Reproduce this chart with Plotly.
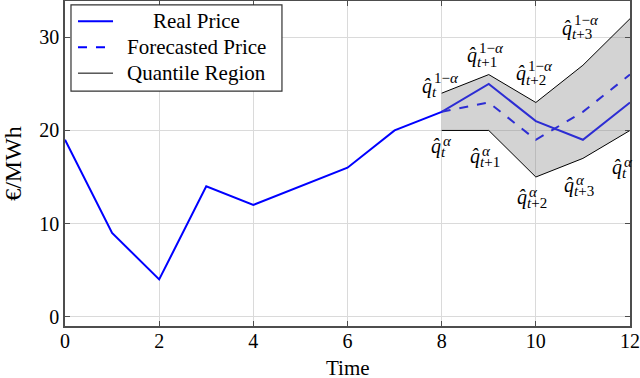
import plotly.graph_objects as go

# ── Data ────────────────────────────────────────────────────────────────────

time = [0, 1, 2, 3, 4, 5, 6, 7, 8, 9, 10, 11, 12]
real_price = [19, 9, 4, 14, 12, 14, 16, 20, 22, 25, 21, 19, 23]

forecast_time = [8, 9, 10, 11, 12]
forecast_price = [22, 23, 19, 22, 26]
quantile_upper = [24, 26, 23, 27, 32]
quantile_lower = [20, 20, 15, 17, 20]

x_ticks = [0, 2, 4, 6, 8, 10, 12]
y_ticks = [0, 10, 20, 30]

# quantile labels: (index into forecast_time, bound, subscript)
label_specs = [
    (0, "upper", "<i>t</i>"),
    (1, "upper", "<i>t</i>+1"),
    (2, "upper", "<i>t</i>+2"),
    (3, "upper", "<i>t</i>+3"),
    (0, "lower", "<i>t</i>"),
    (1, "lower", "<i>t</i>+1"),
    (2, "lower", "<i>t</i>+2"),
    (3, "lower", "<i>t</i>+3"),
    (4, "lower", "<i>t</i>"),
]
# pixel offsets of the q-hat glyph from its vertex
label_offsets = [
    (-15, 5), (-17, 17), (-15, 27), (-16, 35),
    (-6, -18), (-14, -28), (-14, -22), (-14, -29), (-13, -39),
]

# ── Styling ─────────────────────────────────────────────────────────────────

FONT = "Liberation Serif, Times New Roman, serif"
BLUE = "#0000ff"
FRAME = "#4d4d4d"
GRID = "#dadada"

series_styles = [
    ("Real Price", dict(color=BLUE, width=2)),
    ("Forecasted Price", dict(color=BLUE, width=2, dash="dash")),
    ("Quantile Region", dict(color="black", width=1)),
]

fig = go.Figure()

fig.add_trace(go.Scatter(
    x=time, y=real_price, mode="lines",
    line=series_styles[0][1], name=series_styles[0][0],
))
fig.add_trace(go.Scatter(
    x=forecast_time, y=forecast_price, mode="lines",
    line=series_styles[1][1], name=series_styles[1][0],
))
fig.add_trace(go.Scatter(
    x=forecast_time, y=quantile_lower, mode="lines",
    line=series_styles[2][1], name=series_styles[2][0],
))
fig.add_trace(go.Scatter(
    x=forecast_time, y=quantile_upper, mode="lines",
    line=series_styles[2][1], name="Quantile upper",
    fill="tonexty", fillcolor="rgba(128,128,128,0.35)",
))


def add_quantile_label(x, y, sub, sup, dx, dy):
    common = dict(x=x, y=y, xref="x", yref="y", showarrow=False,
                  yanchor="middle", borderpad=0)
    fig.add_annotation(text="<i>q\u0302</i>", xanchor="center",
                       xshift=dx, yshift=dy + 2, font=dict(size=20), **common)
    sup_lift = 10 if "1" in sup else 7
    fig.add_annotation(text=sup, xanchor="left", xshift=dx + 6,
                       yshift=dy + sup_lift, font=dict(size=15), **common)
    fig.add_annotation(text=sub, xanchor="left", xshift=dx + 4,
                       yshift=dy - 4, font=dict(size=15), **common)


for (i, bound, sub), (dx, dy) in zip(label_specs, label_offsets):
    if bound == "upper":
        add_quantile_label(forecast_time[i], quantile_upper[i], sub,
                           "1\u2212<i>\u03b1</i>", dx, dy)
    else:
        add_quantile_label(forecast_time[i], quantile_lower[i], sub,
                           "<i>\u03b1</i>", dx, dy)

# ── Legend box (pgfplots style, text centred in its column) ─────────────────

fig.add_shape(type="rect", xref="paper", yref="paper",
              x0=0.0106, x1=0.384, y0=0.723, y1=0.988,
              line=dict(color="#333333", width=1.2), fillcolor="white",
              layer="above")
for k, (name, style) in enumerate(series_styles):
    ly = 0.938 - k * 0.08
    fig.add_shape(type="line", xref="paper", yref="paper",
                  x0=0.023, x1=0.085, y0=ly, y1=ly,
                  line=style, layer="above")
    fig.add_annotation(text=name, xref="paper", yref="paper",
                       x=0.232, y=ly, xanchor="center", yanchor="middle",
                       showarrow=False, font=dict(size=21))

# x-axis title as annotation so it sits where pgfplots puts it
fig.add_annotation(text="Time", xref="paper", yref="paper", x=0.5, y=-0.128,
                   xanchor="center", yanchor="middle", showarrow=False,
                   borderpad=0, font=dict(size=21))

axis_style = dict(
    showgrid=True, gridcolor=GRID, gridwidth=1, zeroline=False,
    showline=True, linecolor=FRAME, linewidth=1.6, mirror="allticks",
    ticks="inside", ticklen=5, tickcolor=FRAME, automargin=False,
)

fig.update_xaxes(range=[0, 12], tickvals=x_ticks,
                 ticklabelstandoff=-4, **axis_style)
fig.update_yaxes(range=[-1, 33.9], tickvals=y_ticks, title_text="€/MWh",
                 title_standoff=13, **axis_style)

fig.update_layout(
    width=640, height=378,
    margin=dict(l=65, r=10, t=1, b=52),
    paper_bgcolor="white", plot_bgcolor="white",
    font=dict(family=FONT, size=20, color="black"),
    showlegend=False,
)

fig.write_html("out.html", config={"displayModeBar": False},
               post_script="document.body.style.margin='0';")
